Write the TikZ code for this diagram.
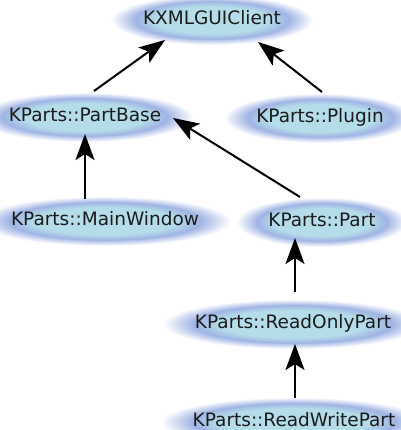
\documentclass[tikz,border=0pt]{standalone}
\usepackage{fontspec}
\setmainfont{DejaVu Sans}
\usepackage{tikz}
\usepackage{xcolor}
\usetikzlibrary{arrows.meta}
\definecolor{glowcore}{RGB}{180,220,233}
\definecolor{glowrim}{RGB}{160,180,228}
\definecolor{classtext}{RGB}{28,28,28}
\pgfdeclareradialshading{kglow}{\pgfpoint{0bp}{0bp}}{color(0bp)=(glowcore); color(14bp)=(glowcore); color(19bp)=(glowrim); color(25bp)=(white); color(50bp)=(white)}
\tikzset{
    glow-box/.style = {rectangle, shading=kglow, inner xsep=32pt, inner ysep=16pt, text height=13.5pt, text depth=4pt, text=classtext, font=\fontsize{18.5}{20}\selectfont},
    inherit-arrow/.style = {-{Stealth[length=26pt, width=19pt, inset=6pt]}, line width=2pt, black},
}

\begin{document}
\begin{tikzpicture}[x=1pt, y=1pt]
\useasboundingbox (0,0) rectangle (400,-430);
\node [glow-box] (client) at (212,-20) {KXMLGUIClient};
\node [glow-box] (partbase) at (85,-117) {KParts::PartBase};
\node [glow-box] (plugin) at (320,-118) {KParts::Plugin};
\node [glow-box] (mainwindow) at (105,-221) {KParts::MainWindow};
\node [glow-box] (part) at (322,-222) {KParts::Part};
\node [glow-box] (readonly) at (293,-324) {KParts::ReadOnlyPart};
\node [glow-box] (readwrite) at (294,-422) {KParts::ReadWritePart};
\draw [inherit-arrow] ([shift={(9,26)}]partbase.center) -- ([shift={(-47,-20)}]client.center);
\draw [inherit-arrow] ([shift={(2,26)}]plugin.center) -- ([shift={(46,-22)}]client.center);
\draw [inherit-arrow] ([shift={(-20,22)}]mainwindow.center) -- ([shift={(0,-17)}]partbase.center);
\draw [inherit-arrow] ([shift={(-22,25)}]part.center) -- ([shift={(88,-1)}]partbase.center);
\draw [inherit-arrow] ([shift={(2,32)}]readonly.center) -- ([shift={(-27,-16)}]part.center);
\draw [inherit-arrow] ([shift={(1,24)}]readwrite.center) -- ([shift={(2,-20)}]readonly.center);
\end{tikzpicture}
\end{document}
